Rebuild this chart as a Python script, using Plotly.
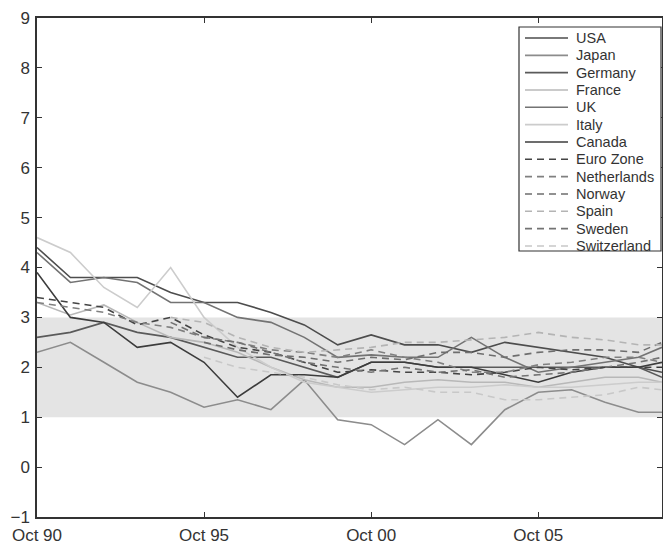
import plotly.graph_objects as go

dates = [f"{y}-10-01" for y in range(1990, 2009)] + ["2009-06-15"]

usa = [4.4, 3.8, 3.8, 3.8, 3.5, 3.3, 3.3, 3.1, 2.85, 2.45, 2.65, 2.45, 2.45, 2.3, 2.5, 2.4, 2.3, 2.2, 2.0, 1.9]
japan = [2.3, 2.5, 2.1, 1.7, 1.5, 1.2, 1.35, 1.15, 1.75, 0.95, 0.85, 0.45, 0.95, 0.45, 1.15, 1.5, 1.55, 1.3, 1.1, 1.1]
germany = [2.6, 2.7, 2.9, 2.7, 2.6, 2.4, 2.2, 2.2, 2.0, 1.8, 2.1, 2.1, 2.0, 2.0, 2.0, 2.0, 2.0, 2.0, 2.0, 1.8]
france = [3.3, 3.05, 3.25, 2.9, 2.6, 2.5, 2.3, 2.0, 1.75, 1.6, 1.6, 1.7, 1.75, 1.7, 1.7, 1.6, 1.7, 1.8, 1.8, 1.7]
uk = [4.3, 3.7, 3.8, 3.7, 3.3, 3.3, 3.0, 2.9, 2.6, 2.2, 2.25, 2.2, 2.2, 2.6, 2.2, 1.9, 2.0, 2.1, 2.2, 2.4]
italy = [4.6, 4.3, 3.6, 3.2, 4.0, 3.0, 2.4, 2.0, 1.7, 1.6, 1.5, 1.55, 1.6, 1.6, 1.65, 1.6, 1.6, 1.65, 1.7, 1.7]
canada = [3.9, 3.0, 2.9, 2.4, 2.5, 2.1, 1.4, 1.85, 1.85, 1.8, 2.1, 2.1, 2.0, 2.0, 1.85, 1.7, 1.9, 2.0, 2.0, 2.1]
euro_zone = [3.4, 3.3, 3.2, 2.85, 3.0, 2.65, 2.4, 2.3, 2.1, 1.9, 1.95, 1.9, 1.9, 1.85, 1.9, 2.0, 1.95, 2.0, 2.0, 2.0]
netherlands = [3.3, 3.2, 3.1, 2.9, 2.8, 2.6, 2.5, 2.35, 2.3, 2.2, 2.35, 2.2, 2.1, 1.9, 1.9, 2.05, 2.1, 2.2, 2.2, 2.1]
norway = [None, None, None, None, None, 2.5, 2.35, 2.25, 2.2, 2.1, 2.2, 2.15, 2.3, 2.3, 2.2, 2.3, 2.35, 2.35, 2.3, 2.5]
spain = [None, None, None, None, 3.0, 2.9, 2.6, 2.4, 2.3, 2.35, 2.4, 2.5, 2.5, 2.55, 2.6, 2.7, 2.6, 2.55, 2.45, 2.45]
sweden = [None, None, None, None, 2.9, 2.6, 2.5, 2.3, 2.1, 2.0, 1.9, 2.0, 1.9, 1.95, 1.8, 1.85, 1.9, 2.0, 2.1, 2.2]
switzerland = [None, None, None, None, None, 2.2, 2.0, 1.9, 1.8, 1.65, 1.55, 1.6, 1.5, 1.5, 1.35, 1.35, 1.4, 1.45, 1.6, 1.55]

tick_vals = ["1990-10-01", "1995-10-01", "2000-10-01", "2005-10-01"]
tick_text = ["Oct 90", "Oct 95", "Oct 00", "Oct 05"]

series = [
    ("USA", usa, "#4d4d4d", "solid"),
    ("Japan", japan, "#8c8c8c", "solid"),
    ("Germany", germany, "#5a5a5a", "solid"),
    ("France", france, "#b8b8b8", "solid"),
    ("UK", uk, "#737373", "solid"),
    ("Italy", italy, "#cccccc", "solid"),
    ("Canada", canada, "#3c3c3c", "solid"),
    ("Euro Zone", euro_zone, "#444444", "7px,5px"),
    ("Netherlands", netherlands, "#808080", "7px,5px"),
    ("Norway", norway, "#6e6e6e", "7px,5px"),
    ("Spain", spain, "#b4b4b4", "7px,5px"),
    ("Sweden", sweden, "#737373", "7px,5px"),
    ("Switzerland", switzerland, "#c8c8c8", "7px,5px"),
]

fig = go.Figure()
for name, vals, color, dash in series:
    fig.add_trace(go.Scatter(x=dates, y=vals, name=name, mode="lines",
                             line=dict(color=color, width=1.6, dash=dash),
                             showlegend=False))

fig.add_shape(type="rect", xref="paper", yref="y", x0=0, x1=1, y0=1, y1=3,
              fillcolor="#e4e4e4", line=dict(width=0), layer="below")

plot_l, plot_r, plot_t, plot_b = 37, 662, 18, 517   # page pixels
fig_w, fig_h = 663, 545

def px_x(p):
    return (p - plot_l) / (plot_r - plot_l)
def px_y(p):
    return (plot_b - p) / (plot_b - plot_t)

# legend box built from the series list (paper coordinates)
fig.add_shape(type="rect", xref="paper", yref="paper",
              x0=px_x(519), x1=px_x(661), y0=px_y(251), y1=px_y(27),
              fillcolor="white", line=dict(color="#333333", width=1.2), layer="above")
row_h = 17.33
for i, (name, vals, color, dash) in enumerate(series):
    yy = px_y(38 + row_h * i)
    fig.add_shape(type="line", xref="paper", yref="paper",
                  x0=px_x(525), x1=px_x(568), y0=yy, y1=yy,
                  line=dict(color=color, width=1.6, dash=dash), layer="above")
    fig.add_annotation(xref="paper", yref="paper", x=px_x(574), y=yy,
                       text=name, showarrow=False, xanchor="left", yanchor="middle",
                       font=dict(size=14.5, color="#333333"))

axis_common = dict(showline=True, linecolor="#333333", linewidth=1.5, mirror="ticks",
                   ticks="inside", ticklen=5, tickcolor="#333333", showgrid=False,
                   zeroline=False, automargin=False,
                   tickfont=dict(size=17, color="#333333"))

fig.update_layout(
    width=fig_w, height=fig_h,
    margin=dict(l=plot_l, r=fig_w - plot_r, t=plot_t, b=fig_h - plot_b),
    paper_bgcolor="white", plot_bgcolor="white",
    font=dict(family="Liberation Sans, Arial, sans-serif", color="#333333"),
    xaxis=dict(type="date", range=["1990-10-01", "2009-06-15"], tickvals=tick_vals,
               ticktext=tick_text, ticklabelstandoff=2, **axis_common),
    yaxis=dict(range=[-1, 9], dtick=1, ticklabelstandoff=2, **axis_common),
    showlegend=False,
)

fig.write_html("out.html", config={"displayModeBar": False},
               post_script="document.body.style.margin='0';document.body.style.overflow='hidden';")
